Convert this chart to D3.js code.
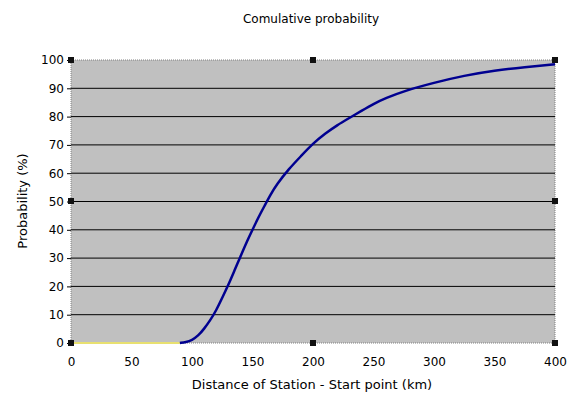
<!DOCTYPE html><html><head><meta charset="utf-8"><script src="https://cdn.jsdelivr.net/npm/d3@7"></script>
<style>body{margin:0;background:#fff}text{font-family:"DejaVu Sans",sans-serif}</style></head><body><svg width="578" height="407"></svg>
<script>
const distances=[0,90,95,100,105,110,115,120,125,130,135,140,145,150,155,160,165,170,180,190,200,210,220,230,240,250,260,275,300,325,350,375,400];
const probs=[0,0,0.3,1,2.5,5,8,11.5,16,20.5,25.5,30.5,35.5,40,44.5,48.5,52.5,56,61.5,66,70.5,74,77,79.5,82,84.5,86.5,89,92,94.5,96.3,97.5,98.5];
const yTicks=d3.range(0,101,10), xTicks=d3.range(0,401,50);
const svg=d3.select("svg");
const x=d3.scaleLinear().domain([0,400]).range([71,555]);
const y=d3.scaleLinear().domain([0,100]).range([343,60]);
svg.append("rect").attr("x",71).attr("y",60).attr("width",484).attr("height",283).attr("fill","#c0c0c0").attr("stroke","#808080").attr("stroke-dasharray","1,1");
svg.selectAll(".g").data(yTicks.slice(1,-1)).join("line").attr("x1",71).attr("x2",555).attr("y1",d=>y(d)).attr("y2",d=>y(d)).attr("stroke","#000");
const ya=svg.append("g").attr("transform","translate(71,0)").call(d3.axisLeft(y).tickValues(yTicks).tickSize(4));
const xa=svg.append("g").attr("transform","translate(0,343)").call(d3.axisBottom(x).tickValues(xTicks).tickSize(0).tickPadding(14));
[ya,xa].forEach(a=>{a.select(".domain").remove();a.selectAll("text").attr("font-size",12).attr("fill","#000");});
svg.append("line").attr("x1",x(0)).attr("x2",x(90)).attr("y1",y(0)).attr("y2",y(0)).attr("stroke","#e8e070").attr("stroke-width",2);
svg.append("path").datum(distances.map((d,i)=>[d,probs[i]]).filter(d=>d[0]>=85)).attr("d",d3.line().x(d=>x(d[0])).y(d=>y(d[1])).curve(d3.curveBasis)).attr("fill","none").attr("stroke","#000090").attr("stroke-width",2.5);
[[71,60],[313,60],[555,60],[71,201],[555,201],[71,343],[313,343],[555,343]].forEach(p=>svg.append("rect").attr("x",p[0]-3).attr("y",p[1]-3).attr("width",6).attr("height",6).attr("fill","#111"));
svg.append("text").attr("x",311).attr("y",23).attr("text-anchor","middle").attr("font-size",12).text("Comulative probability");
svg.append("text").attr("x",312).attr("y",389).attr("text-anchor","middle").attr("font-size",13).text("Distance  of Station - Start point (km)");
svg.append("text").attr("transform","translate(27,201) rotate(-90)").attr("text-anchor","middle").attr("font-size",13).text("Probability (%)");
</script></body></html>
